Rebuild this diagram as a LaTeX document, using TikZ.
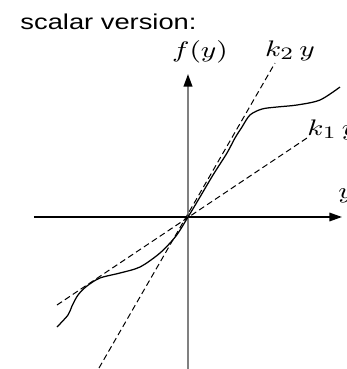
\documentclass[tikz,border=0pt]{standalone}
\usepackage{graphicx}
\usepackage{fontspec}
\newfontfamily\labelfont{Liberation Sans}
\usetikzlibrary{arrows.meta}

% labels in the reference are a little wider than tall
\newcommand{\widelabel}[1]{\scalebox{1.27}[1]{#1}}

\begin{document}
\begin{tikzpicture}[x=0.4pt, y=0.4pt,
    axisline/.style={line width=0.6pt, -{Triangle[length=5pt, width=3.4pt, black]}},
    gainline/.style={line width=0.4pt, dash pattern=on 2.4pt off 1.4pt},
    mathlabel/.style={inner sep=0pt, font=\fontsize{9.4}{11}\selectfont}]
    \useasboundingbox (-188,-152) rectangle (159,217);

    % axes
    \coordinate (ybot) at (0,-152);
    \coordinate (ytop) at (0,143);
    \coordinate (xleft) at (-154,0);
    \coordinate (xright) at (154,0);
    \draw[axisline] (xleft) -- (xright);
    \draw[axisline, gray, line width=0.8pt] (ybot) -- (ytop);

    % sector lines
    \coordinate (ktwolo) at (-89,-151);
    \coordinate (ktwohi) at (87,154);
    \coordinate (konelo) at (-131,-88);
    \coordinate (konehi) at (119,79);
    \draw[gainline] (ktwolo) -- (ktwohi);
    \draw[gainline] (konelo) -- (konehi);

    % nonlinearity
    \draw[line width=0.5pt] plot[smooth] coordinates {(-131,-110) (-120,-98) (-116,-89)
        (-110,-78) (-101,-69) (-88,-61) (-68,-56) (-48,-50) (-28,-36) (-12,-19) (0,0)
        (12,20) (25,42) (39,64) (47,79) (54,90) (62,102) (74,108) (89,110) (109,112)
        (132,117) (152,130)};

    % labels
    \node[anchor=base west, inner sep=0pt, font=\labelfont\fontsize{8.6}{10}\selectfont]
        (title) at (-168,188) {\widelabel{scalar version:}};
    \node[mathlabel, anchor=base] (flabel) at (12,160) {\widelabel{$f(y)$}};
    \node[mathlabel, anchor=base] (ktwolabel) at (102,161) {\widelabel{$k_2\,y$}};
    \node[mathlabel, anchor=base west] (konelabel) at (119,82) {\widelabel{$k_1\,y$}};
    \node[mathlabel, anchor=base west] (ylabel) at (150,19) {\widelabel{$y$}};
\end{tikzpicture}
\end{document}
